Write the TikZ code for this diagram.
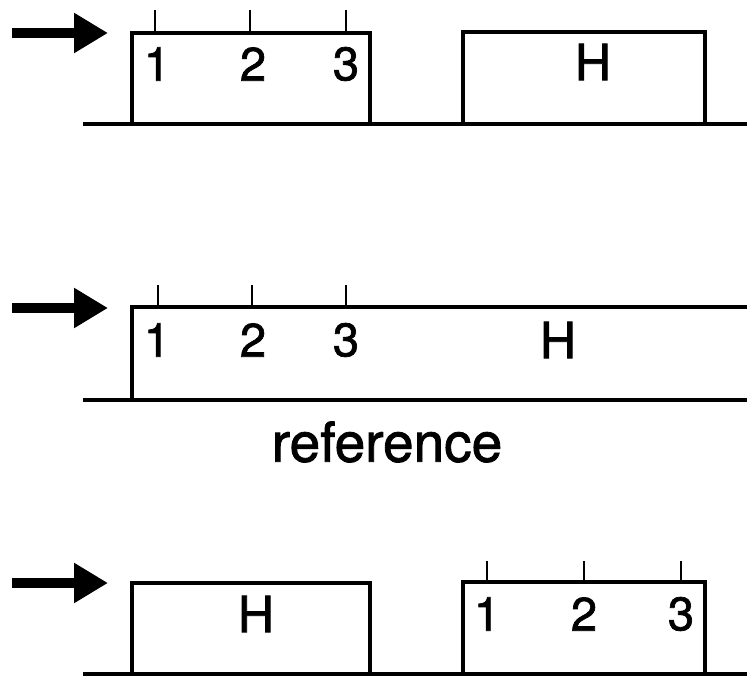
\documentclass[tikz,border=0pt]{standalone}
\usepackage{fontspec}
\setmainfont{TeX Gyre Heros}
\newfontfamily\heavysans{TeX Gyre Heros}[FakeBold=1.5]
\usetikzlibrary{arrows.meta}
\tikzset{
  flow/.style={line width=10pt, -{Triangle[length=34pt,width=38pt]}},
  outline/.style={line width=3.2pt, line join=miter},
  ground/.style={line width=3.4pt},
  tick/.style={line width=2.2pt},
  lbl/.style={inner sep=0pt, font=\heavysans\fontsize{47}{47}\selectfont},
  hlbl/.style={inner sep=0pt, font=\heavysans\fontsize{50}{50}\selectfont},
  caption/.style={inner sep=0pt, font=\heavysans\fontsize{55}{55}\selectfont}
}
\begin{document}
\begin{tikzpicture}[x=1pt,y=-1pt]
\useasboundingbox (0,0) rectangle (747,676);

% ---------- first row: numbered box, then H box ----------
\coordinate (a1s) at (12,33);  \coordinate (a1e) at (108,33);
\draw[flow] (a1s) -- (a1e);
\coordinate (g1l) at (83,124); \coordinate (g1r) at (747,124);
\draw[ground] (g1l) -- (g1r);
\draw[outline] (132,124) rectangle (370,33);
\draw[outline] (463,124) rectangle (705,32);
\foreach \x in {155,250,346} {
  \draw[tick] (\x,10) -- (\x,33);
}
\node[lbl] (r1n1) at (157,64) {1};
\node[lbl] (r1n2) at (253,64) {2};
\node[lbl] (r1n3) at (346,64) {3};
\node[hlbl] (r1h)  at (593,62) {H};

% ---------- second row: one long box, open on the right ----------
\coordinate (a2s) at (12,308); \coordinate (a2e) at (108,308);
\draw[flow] (a2s) -- (a2e);
\coordinate (g2l) at (83,400); \coordinate (g2r) at (747,400);
\draw[ground] (g2l) -- (g2r);
\draw[outline] (747,307) -- (132,307) -- (132,400);
\foreach \x in {158,252,346} {
  \draw[tick] (\x,285) -- (\x,307);
}
\node[lbl] (r2n1) at (157,340) {1};
\node[lbl] (r2n2) at (253,340) {2};
\node[lbl] (r2n3) at (346,340) {3};
\node[hlbl] (r2h)  at (558,340) {H};
\node[caption] (cap) at (387,442) {reference};

% ---------- third row: H box, then numbered box ----------
\coordinate (a3s) at (12,583); \coordinate (a3e) at (108,583);
\draw[flow] (a3s) -- (a3e);
\coordinate (g3l) at (83,674); \coordinate (g3r) at (747,674);
\draw[ground] (g3l) -- (g3r);
\draw[outline] (132,674) rectangle (370,583);
\draw[outline] (463,674) rectangle (705,582);
\foreach \x in {487,584,681} {
  \draw[tick] (\x,561) -- (\x,582);
}
\node[hlbl] (r3h)  at (256,614) {H};
\node[lbl] (r3n1) at (487,614) {1};
\node[lbl] (r3n2) at (584,614) {2};
\node[lbl] (r3n3) at (681,614) {3};
\end{tikzpicture}
\end{document}
